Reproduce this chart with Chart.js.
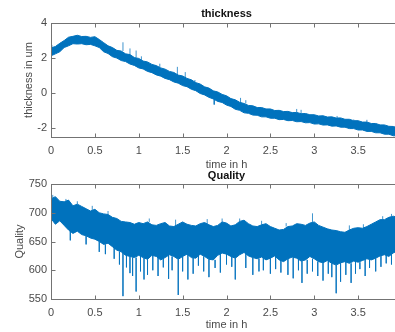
<!DOCTYPE html>
<html>
<head>
<meta charset="utf-8">
<script src="https://cdn.jsdelivr.net/npm/chart.js@4"></script>
<style>
  html, body { margin: 0; padding: 0; background: #fff; overflow: hidden; width: 395px; height: 332px; }
  #thickChart { position: absolute; left: 0; top: 0; }
  #qualChart { position: absolute; left: 0; top: 165px; }
</style>
</head>
<body>
<canvas id="thickChart" width="440" height="175"></canvas>
<canvas id="qualChart" width="440" height="167"></canvas>
<script>
// sample times (h)
const timeH = [0, 0.05, 0.1, 0.15, 0.2, 0.25, 0.3, 0.35, 0.4, 0.45,
  0.5, 0.55, 0.6, 0.65, 0.7, 0.75, 0.8, 0.85, 0.9, 0.95,
  1, 1.05, 1.1, 1.15, 1.2, 1.25, 1.3, 1.35, 1.4, 1.45,
  1.5, 1.55, 1.6, 1.65, 1.7, 1.75, 1.8, 1.85, 1.9, 1.95,
  2, 2.05, 2.1, 2.15, 2.2, 2.25, 2.3, 2.35, 2.4, 2.45,
  2.5, 2.55, 2.6, 2.65, 2.7, 2.75, 2.8, 2.85, 2.9, 2.95,
  3, 3.05, 3.1, 3.15, 3.2, 3.25, 3.3, 3.35, 3.4, 3.45,
  3.5, 3.55, 3.6, 3.65, 3.7, 3.75, 3.8, 3.85, 3.9, 3.95];

// thickness noise band (upper / lower edge), um
const thickHigh = [2.58, 2.66, 2.84, 3.00, 3.19, 3.24, 3.30, 3.23, 3.24, 3.18,
  3.22, 3.06, 2.88, 2.70, 2.60, 2.44, 2.40, 2.24, 2.20, 2.03,
  1.98, 1.83, 1.78, 1.64, 1.57, 1.44, 1.37, 1.24, 1.18, 1.03,
  0.98, 0.84, 0.76, 0.60, 0.52, 0.36, 0.29, 0.13, 0.07, -0.07,
  -0.15, -0.31, -0.38, -0.52, -0.59, -0.70, -0.72, -0.82, -0.82, -0.90,
  -0.90, -0.99, -0.98, -1.05, -1.04, -1.11, -1.10, -1.17, -1.16, -1.23,
  -1.23, -1.30, -1.29, -1.36, -1.35, -1.42, -1.41, -1.49, -1.49, -1.57,
  -1.57, -1.65, -1.65, -1.73, -1.73, -1.81, -1.81, -1.89, -1.90, -1.97];
const thickLow = [2.13, 2.24, 2.36, 2.60, 2.70, 2.82, 2.80, 2.82, 2.76, 2.78,
  2.70, 2.60, 2.36, 2.26, 2.08, 2.00, 1.86, 1.80, 1.66, 1.58,
  1.44, 1.38, 1.24, 1.17, 1.04, 0.97, 0.84, 0.77, 0.64, 0.57,
  0.43, 0.37, 0.22, 0.14, -0.02, -0.10, -0.24, -0.33, -0.47, -0.53,
  -0.68, -0.76, -0.92, -0.98, -1.12, -1.15, -1.25, -1.26, -1.35, -1.35,
  -1.43, -1.43, -1.51, -1.50, -1.57, -1.56, -1.63, -1.62, -1.69, -1.68,
  -1.76, -1.75, -1.82, -1.81, -1.88, -1.87, -1.94, -1.94, -2.02, -2.02,
  -2.10, -2.10, -2.18, -2.18, -2.26, -2.26, -2.34, -2.34, -2.43, -2.43];
const thickSpikeT = [0.01, 0.82, 0.9, 0.97, 1.03, 1.24, 1.44, 1.53, 1.64, 1.86, 2.16, 2.22, 2.8, 2.85, 3.26, 3.45, 3.6];
const thickSpikeV = [2.75, 2.9, 2.55, 2.43, 2.1, 1.68, 1.5, 1.2, 0.75, -0.65, -0.27, -0.4, -0.9, -0.95, -1.3, -1.5, -1.52];

// quality noise band
const qualHigh = [724, 728, 720, 719, 722, 712, 715, 711, 707, 703,
  706, 700, 698, 697, 692, 690, 685, 684, 683, 680,
  683, 681, 684, 679, 678, 681, 683, 677, 676, 680,
  684, 680, 678, 677, 681, 683, 679, 676, 678, 684,
  682, 677, 679, 685, 687, 681, 677, 676, 679, 681,
  676, 673, 670, 671, 676, 677, 681, 680, 678, 682,
  684, 678, 675, 672, 670, 669, 667, 666, 670, 673,
  674, 673, 676, 680, 684, 688, 688, 692, 694, 692];
const qualLow = [690, 680, 686, 678, 670, 664, 668, 662, 660, 656,
  654, 650, 645, 647, 641, 635, 632, 626, 624, 622,
  626, 622, 619, 626, 624, 618, 622, 627, 624, 619,
  624, 628, 622, 621, 628, 624, 619, 618, 626, 630,
  628, 624, 621, 627, 631, 625, 622, 620, 623, 618,
  621, 625, 618, 615, 620, 623, 621, 616, 618, 624,
  620, 615, 613, 617, 612, 609, 613, 615, 612, 616,
  614, 617, 620, 618, 621, 625, 627, 624, 630, 634];
const qualSpikeT = [0.02, 0.17, 0.22, 0.3, 0.4, 0.47, 0.55, 0.62, 0.65, 0.72,
  0.78, 0.82, 0.86, 0.9, 0.93, 0.97, 1.02, 1.06, 1.1, 1.12,
  1.16, 1.22, 1.28, 1.34, 1.38, 1.42, 1.45, 1.5, 1.56, 1.62,
  1.68, 1.74, 1.78, 1.8, 1.87, 1.93, 1.95, 2.0, 2.06, 2.1,
  2.15, 2.22, 2.3, 2.37, 2.4, 2.42, 2.5, 2.56, 2.62, 2.68,
  2.7, 2.76, 2.82, 2.86, 2.92, 2.98, 2.98, 3.04, 3.1, 3.16,
  3.2, 3.25, 3.3, 3.36, 3.4, 3.42, 3.47, 3.52, 3.56, 3.58,
  3.63, 3.7, 3.76, 3.78, 3.82, 3.88, 3.88, 3.93];
const qualSpikeV = [731, 724, 652, 720, 645, 712, 632, 628, 703, 620,
  610, 555, 605, 595, 590, 563, 598, 584, 592, 690,
  600, 590, 605, 585, 600, 688, 557, 598, 584, 594,
  608, 598, 689, 588, 604, 596, 690, 610, 606, 584,
  690, 604, 592, 598, 686, 600, 594, 602, 596, 682,
  592, 586, 600, 578, 594, 598, 699, 590, 582, 594,
  588, 560, 580, 592, 678, 578, 594, 602, 680, 590,
  604, 598, 606, 694, 612, 610, 698, 618];

const timeTicks = [0, 0.5, 1, 1.5, 2, 2.5, 3, 3.5, 4];
const thickTicks = [-2, 0, 2, 4];
const qualTicks = [550, 600, 650, 700, 750];

const blue = "#0072BD";

Chart.defaults.font.family = '"Liberation Sans", Arial, Helvetica, sans-serif';
Chart.defaults.font.size = 11;
Chart.defaults.color = "#4a4a4a";

function band(values) {
  return timeH.map((t, i) => ({ x: t, y: values[i] }));
}

function spikes(spikeT, spikeV, high, low) {
  const pts = [];
  spikeT.forEach((t, k) => {
    const i = Math.min(timeH.length - 1, Math.round(t / 0.05));
    const v = spikeV[k];
    const base = v > high[i] ? high[i] : low[i];
    pts.push({ x: t, y: base }, { x: t, y: v }, { x: t, y: null });
  });
  return pts;
}

// matlab style box with inward ticks
const matlabBox = {
  id: "matlabBox",
  afterDatasetsDraw(chart) {
    const { ctx, chartArea: a, scales } = chart;
    ctx.save();
    ctx.strokeStyle = "#737373";
    ctx.lineWidth = 1;
    const l = Math.round(a.left) + 0.5, t = Math.round(a.top) + 0.5;
    const r = Math.round(a.right) + 0.5, b = Math.round(a.bottom) + 0.5;
    ctx.strokeRect(l, t, r - l, b - t);
    ctx.beginPath();
    for (const tk of scales.x.ticks) {
      const px = Math.round(scales.x.getPixelForValue(tk.value)) + 0.5;
      ctx.moveTo(px, b); ctx.lineTo(px, b - 4);
      ctx.moveTo(px, t); ctx.lineTo(px, t + 4);
    }
    for (const tk of scales.y.ticks) {
      const py = Math.round(scales.y.getPixelForValue(tk.value)) + 0.5;
      ctx.moveTo(l, py); ctx.lineTo(l + 4, py);
    }
    ctx.stroke();
    ctx.restore();
  }
};

function makeChart(id, cfg) {
  return new Chart(document.getElementById(id), {
    type: "line",
    data: {
      datasets: [
        {
          data: band(cfg.high),
          borderColor: blue,
          backgroundColor: blue,
          borderWidth: 1,
          pointRadius: 0,
          fill: "+1",
        },
        {
          data: band(cfg.low),
          borderColor: blue,
          borderWidth: 1,
          pointRadius: 0,
          fill: false,
        },
        {
          data: spikes(cfg.spikeT, cfg.spikeV, cfg.high, cfg.low),
          borderColor: "rgba(0,114,189,0.75)",
          borderWidth: 1,
          pointRadius: 0,
          spanGaps: false,
          fill: false,
        },
      ],
    },
    options: {
      responsive: false,
      animation: false,
      layout: { padding: { left: 0, right: 38, top: 0, bottom: 0 } },
      plugins: { legend: { display: false }, tooltip: { enabled: false } },
      scales: {
        x: {
          type: "linear",
          position: "bottom",
          min: 0,
          max: 4,
          afterBuildTicks: (s) => { s.ticks = timeTicks.map((v) => ({ value: v })); },
          ticks: { padding: 7, maxRotation: 0, autoSkip: false, callback: (v) => String(v) },
          grid: { display: false, drawTicks: false },
          border: { display: false },
          title: { display: true, text: "time in h", padding: { top: 0, bottom: cfg.xTitlePad } },
          afterFit: (s) => { s.height = cfg.bottomH; },
        },
        xTop: {
          type: "linear",
          position: "top",
          min: 0,
          max: 4,
          ticks: { display: false },
          grid: { display: false, drawTicks: false },
          border: { display: false },
          title: {
            display: true,
            text: cfg.title,
            color: "#111",
            font: { weight: "bold" },
            padding: { top: cfg.titlePad, bottom: 0 },
          },
          afterFit: (s) => { s.height = cfg.topH; },
        },
        y: {
          type: "linear",
          min: cfg.yMin,
          max: cfg.yMax,
          afterBuildTicks: (s) => { s.ticks = cfg.yTicks.map((v) => ({ value: v })); },
          ticks: { padding: 4 },
          grid: { display: false, drawTicks: false },
          border: { display: false },
          title: { display: true, text: cfg.yTitle, padding: { top: cfg.yTitlePad, bottom: 0 } },
          afterFit: (s) => { s.width = 51; },
        },
      },
    },
    plugins: [matlabBox],
  });
}

makeChart("thickChart", {
  high: thickHigh, low: thickLow, spikeT: thickSpikeT, spikeV: thickSpikeV,
  yMin: -2.5, yMax: 4, yTicks: thickTicks,
  title: "thickness", yTitle: "thickness in um",
  topH: 23, bottomH: 38, titlePad: 7, xTitlePad: 3, yTitlePad: 22,
});

makeChart("qualChart", {
  high: qualHigh, low: qualLow, spikeT: qualSpikeT, spikeV: qualSpikeV,
  yMin: 550, yMax: 750, yTicks: qualTicks,
  title: "Quality", yTitle: "Quality",
  topH: 19, bottomH: 33, titlePad: 4, xTitlePad: 0, yTitlePad: 13,
});
</script>
</body>
</html>
